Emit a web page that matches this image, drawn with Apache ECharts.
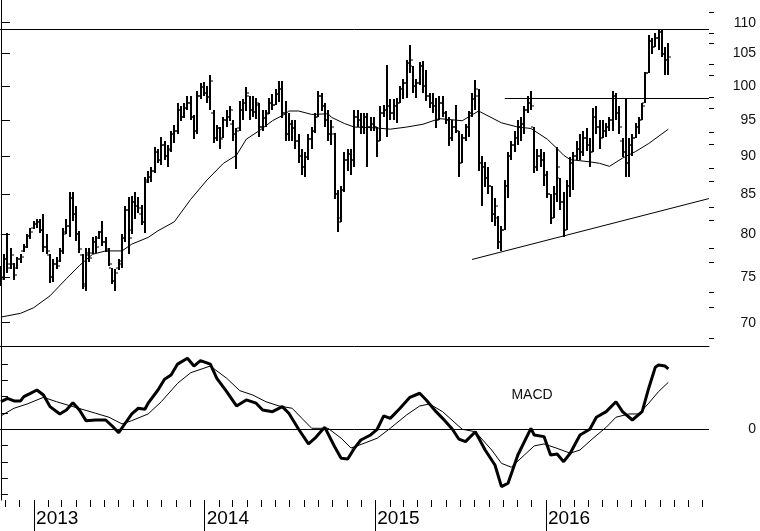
<!DOCTYPE html>
<html><head><meta charset="utf-8">
<script src="https://cdn.jsdelivr.net/npm/echarts@6.0.0/dist/echarts.min.js"></script>
<style>html,body{margin:0;padding:0;background:#fff}#c{width:760px;height:531px}</style>
</head><body><div id="c"></div>
<script>
// ---- data (weekly bars, first bar week of 2012-10-22) ----
const firstBar = [2012, 9, 22];
const opens = [75.8,75.0,77.0,76.5,76.5,76.0,77.0,78.0,78.5,79.8,80.8,81.2,81.5,80.5,78.5,77.5,75.0,76.5,76.8,78.0,
80.2,81.0,84.5,82.5,80.0,77.5,74.0,77.5,77.8,79.0,79.5,80.2,79.0,78.0,76.0,74.5,76.0,76.5,79.5,83.0,
80.5,84.0,83.5,82.5,81.5,86.8,87.2,88.0,90.5,89.5,91.5,90.0,91.0,93.0,93.5,96.5,95.5,96.8,97.5,95.5,
93.5,98.5,99.8,99.0,98.3,96.0,92.5,93.8,92.5,95.0,95.5,94.5,93.0,93.8,96.5,97.5,98.5,96.5,96.2,97.2,
94.0,95.3,96.0,97.5,97.2,98.8,99.5,96.0,93.0,94.5,93.8,92.0,90.0,88.5,89.8,92.3,93.5,95.5,98.5,97.0,
95.0,93.0,93.0,85.0,82.0,85.5,89.5,90.3,89.5,95.5,95.0,94.0,95.5,94.0,94.5,94.0,92.0,96.0,96.5,97.0,
96.0,97.0,97.5,99.5,100.5,103.5,103.0,100.0,100.5,103.0,100.0,98.5,97.5,97.0,95.0,97.5,96.0,95.0,92.5,94.0,
93.5,89.0,92.5,94.0,96.0,98.0,98.5,89.0,88.5,87.0,86.0,82.5,82.0,79.0,80.5,86.0,90.0,91.5,92.5,94.0,
94.5,96.5,97.5,94.0,88.5,90.0,89.5,87.5,85.0,82.0,85.0,87.0,84.0,80.5,86.0,89.0,90.0,91.0,90.5,92.5,
91.5,90.5,95.5,94.0,92.5,93.5,94.0,95.0,98.5,96.0,92.0,90.5,89.0,91.5,92.5,94.0,95.0,97.5,102.0,107.0,
106.0,107.5,108.5,105.0,104.0];
const highs = [76.2,77.6,80.1,78.3,76.6,77.3,77.6,78.8,80.0,80.8,81.6,81.9,81.9,82.5,80.0,77.6,77.0,77.3,78.4,80.7,
81.8,85.3,85.3,83.5,80.4,77.6,78.3,78.4,79.6,79.8,80.4,81.6,79.6,78.4,76.0,75.9,77.0,80.0,83.5,84.6,
84.7,85.2,84.6,83.6,87.2,88.0,88.5,91.2,91.0,92.6,92.0,91.5,93.5,94.3,97.4,97.0,97.4,98.5,98.5,95.7,
99.2,100.4,100.6,100.0,101.7,96.5,94.3,94.0,95.5,96.5,97.1,95.0,93.9,97.7,98.0,99.9,98.5,98.5,98.2,97.4,
96.5,96.5,98.2,98.8,99.6,100.7,100.7,97.7,96.0,95.0,95.0,93.0,91.0,90.5,93.0,94.0,96.0,99.2,99.0,97.5,
96.5,95.0,93.2,85.5,86.0,90.5,91.0,91.0,96.5,96.5,96.0,96.0,96.0,95.5,95.5,94.0,97.0,97.2,103.2,98.0,
98.0,98.2,100.0,101.0,104.0,106.4,103.0,101.0,103.7,103.8,102.5,99.0,99.0,98.2,98.5,98.5,96.3,95.4,95.0,97.2,
93.5,93.0,94.5,96.3,99.0,100.9,99.5,90.0,89.2,88.5,86.0,84.5,82.2,81.0,86.8,90.6,92.0,93.5,95.0,95.5,
97.0,98.5,99.2,94.0,91.0,91.0,90.5,88.0,85.0,86.0,91.2,87.0,85.3,86.8,89.9,90.5,92.0,93.0,93.5,93.9,
92.5,96.7,97.0,95.0,95.0,94.6,95.5,99.2,99.0,97.0,92.5,98.2,92.5,93.0,94.6,95.5,97.5,102.2,108.0,107.5,
108.3,109.0,109.0,106.0,106.7];
const lows = [74.0,74.7,75.5,75.9,74.7,75.9,76.6,77.9,78.3,79.4,80.6,80.8,80.1,77.9,77.6,74.3,74.4,75.9,76.7,77.6,
80.0,79.6,81.6,79.2,77.8,73.6,73.4,76.7,77.6,77.8,79.4,78.6,77.9,76.3,74.2,73.4,75.8,76.0,79.0,77.6,
80.0,81.8,82.6,81.1,80.1,86.4,86.5,87.7,89.0,88.8,89.5,88.5,90.5,91.8,93.0,94.9,95.3,96.5,95.0,92.3,
93.0,98.0,98.5,97.5,96.5,91.8,92.0,91.0,92.5,94.0,94.9,92.1,88.3,93.5,95.0,96.3,95.0,95.5,95.2,92.6,
93.5,94.0,95.8,96.5,97.2,97.6,95.3,92.0,92.0,92.0,91.0,89.0,87.4,87.2,89.5,91.0,93.2,95.5,96.3,94.0,
92.0,91.5,84.3,80.3,81.5,85.2,88.0,87.4,88.5,94.0,93.0,93.0,88.5,93.5,93.5,89.9,92.0,95.5,92.6,95.0,
95.0,94.6,97.4,98.0,98.2,102.0,99.0,98.2,100.2,99.0,97.7,96.7,96.0,93.8,95.0,95.5,94.5,91.4,92.0,93.2,
87.2,89.0,92.0,92.6,95.4,96.5,88.0,83.5,85.9,85.0,81.5,81.0,78.2,78.0,80.5,84.5,89.4,90.6,91.5,92.0,
93.0,96.0,96.5,87.7,88.0,88.5,86.0,84.5,81.2,82.0,84.0,83.0,79.6,80.5,84.6,85.5,89.4,89.4,90.0,90.7,
88.5,90.5,93.0,91.0,92.5,92.6,93.5,93.5,95.0,93.0,89.9,87.2,87.2,90.0,92.5,93.0,95.0,97.5,102.0,105.0,
106.0,105.5,104.4,101.6,101.6];
const closes = [74.8,77.0,76.0,77.5,75.2,77.0,77.3,78.5,79.8,80.2,81.2,81.5,80.5,78.5,78.0,75.0,76.5,76.2,78.0,80.0,
81.0,84.5,82.5,80.0,78.2,74.2,77.8,77.2,79.0,78.5,80.2,79.0,78.2,76.5,74.5,75.5,76.8,79.5,83.0,79.5,
84.0,83.5,83.2,81.5,86.5,87.2,88.0,90.5,89.5,91.5,90.0,90.8,93.0,93.5,96.5,95.5,96.8,97.5,95.5,93.5,
98.5,99.8,99.0,98.3,100.8,92.5,93.8,92.3,95.0,95.5,96.5,93.0,93.5,96.5,97.5,99.0,96.5,96.2,97.5,94.0,
95.3,95.8,97.5,97.2,98.8,99.5,96.0,93.0,94.5,93.8,92.0,90.0,88.5,89.8,92.3,93.5,95.5,98.5,97.0,95.0,
93.0,94.0,85.0,81.5,85.5,89.5,90.3,89.5,95.5,95.0,94.0,95.5,94.0,94.5,94.0,92.0,96.0,96.5,97.0,96.0,
97.0,97.5,99.5,100.5,103.5,104.0,100.0,100.5,103.0,100.0,98.5,97.5,97.0,95.0,97.5,96.0,95.0,92.5,94.0,93.5,
89.0,92.5,94.0,96.0,98.0,99.5,89.0,88.5,87.0,86.0,82.5,83.5,79.0,80.5,86.0,90.0,91.5,92.5,94.0,94.5,
96.5,97.5,97.0,88.5,90.0,89.5,87.5,85.0,82.0,85.0,88.5,84.0,80.5,86.0,89.0,90.0,91.0,90.5,92.5,91.5,
90.5,95.5,94.0,92.5,93.5,94.0,95.0,98.5,96.0,94.0,90.5,89.0,91.5,92.5,94.0,95.0,97.0,102.0,107.0,106.0,
107.5,108.5,105.0,104.0,104.5];
// moving average: [bar index, price]
const maPoints = [[0,70.6],[6,71.0],[10,71.6],[15,72.9],[20,74.8],[24,76.3],[28,77.6],[32,78.0],[37,78.0],[40,78.8],
[45,79.6],[48,80.4],[53,81.5],[58,84.3],[63,86.8],[68,89.0],[72,90.1],[75,92.3],[79,93.5],[83,94.9],[87,95.9],[88,96.3],
[91,96.3],[95,95.8],[100,95.9],[101,95.4],[105,94.5],[108,94.0],[114,93.9],[119,93.7],[124,94.0],[129,94.4],[134,95.2],
[141,94.9],[146,96.3],[153,94.6],[158,94.0],[162,93.8],[167,92.3],[170,91.0],[172,90.1],[174,89.5],[180,89.2],[183,89.0],
[186,88.6],[190,89.7],[194,90.6],[198,91.7],[204,93.7]];
const macdPoints = [[0,1.69],[2,1.90],[4,1.74],[6,1.74],[7,2.0],[9,2.2],[11,2.41],[13,2.1],[15,1.39],[18,0.94],[20,1.18],
[22,1.63],[24,1.18],[26,0.53],[29,0.57],[32,0.57],[34,0.2],[36,-0.21],[38,0.37],[40,0.94],[42,1.29],[44,1.23],[45,1.6],
[48,2.41],[50,3.07],[52,3.33],[54,4.0],[57,4.36],[59,3.88],[61,4.21],[64,4.0],[66,3.13],[69,2.31],[72,1.43],[75,1.8],
[78,1.6],[80,1.18],[83,1.08],[86,1.39],[88,0.98],[91,0],[94,-0.9],[96,-0.55],[98,-0.09],[99,0.12],[102,-1.07],[104,-1.78],
[106,-1.82],[108,-1.17],[110,-0.66],[113,-0.35],[115,0],[117,0.82],[119,0.67],[122,1.29],[125,1.96],[128,2.21],[130,1.8],
[133,1.08],[135,0.67],[138,0],[140,-0.61],[142,-0.76],[145,-0.15],[148,-1.27],[151,-2.19],[153,-3.52],[155,-3.31],
[158,-1.58],[162,0.06],[163,-0.35],[166,-0.45],[168,-1.58],[170,-1.52],[172,-1.99],[174,-1.47],[177,-0.35],[180,0],
[182,0.74],[185,1.08],[188,1.69],[190,1.08],[193,0.57],[196,1.08],[198,2.52],[200,3.8],[201,3.94],[203,3.88],[204,3.7]];
const signalPoints = [[0,0.82],[4,1.29],[8,1.55],[13,1.96],[17,1.69],[22,1.39],[29,0.98],[33,0.74],[37,0.33],[40,0.53],
[45,0.94],[49,1.69],[54,2.82],[58,3.47],[64,3.88],[69,3.13],[73,2.37],[77,2.1],[81,1.69],[85,1.43],[89,1.29],[92,0.67],
[95,0.06],[100,0.06],[104,-0.55],[107,-1.15],[111,-0.86],[115,-0.55],[119,0.06],[124,0.88],[128,1.43],[131,1.55],
[135,1.08],[141,0],[145,-0.15],[150,-1.27],[153,-2.09],[156,-2.33],[160,-1.58],[163,-1.02],[166,-0.9],[170,-1.17],
[174,-1.47],[177,-1.27],[181,-0.55],[185,0.12],[188,0.74],[192,0.94],[195,0.94],[198,1.6],[201,2.31],[204,2.88]];
const priceTicks = [70,75,80,85,90,95,100,105,110];
const macdTicks = [-4,-3,-2,-1,0,1,2,3,4];
const yearLabels = ['2013','2014','2015','2016'];
const resistanceHigh = 109;
const resistanceMid = 98.2, resistanceMidStart = 154;
const trendLine = [[144, 77.0], [216.4, 84.4]];
const priceRange = [67.59, 113.83];
const macdRange = [-4.34, 5.11];

// ---- helpers ----
const DAY = 864e5;
const t0 = Date.UTC(firstBar[0], firstBar[1], firstBar[2]);
const wk = (y, m, d) => (Date.UTC(y, m, d) - t0) / (7 * DAY);
const xMin = wk(2012, 9, 20), xMax = wk(2016, 11, 15);
const monthTicks = [];
for (let y = 2012; y <= 2016; y++) for (let m = 0; m < 12; m++) {
  const w = wk(y, m, 1);
  if (m !== 0 && w > xMin && w < xMax) monthTicks.push(w);
}
const yearTicks = yearLabels.map(y => wk(+y, 0, 1));
const L = Math.log;
const majorLn = priceTicks.map(L);
const minorLn = [];
for (let k = 0; k < priceTicks.length - 1; k++) {
  const a = L(priceTicks[k]), b = L(priceTicks[k + 1]);
  minorLn.push(a + (b - a) / 3, a + 2 * (b - a) / 3);
}
minorLn.push(L(110) + (L(110) - L(105)) / 3);
minorLn.unshift(L(70) - (L(75) - L(70)) / 3);
const ohlc = opens.map((o, i) => [i, L(o), L(highs[i]), L(lows[i]), L(closes[i])]);
const font = "'Liberation Sans', Arial, sans-serif";

const chart = echarts.init(document.getElementById('c'), null, {renderer: 'canvas'});
chart.setOption({
  animation: false,
  backgroundColor: '#fff',
  grid: [
    {left: 0, right: 51, top: 0, height: 346},
    {left: 0, right: 51, top: 346, height: 154}
  ],
  xAxis: [
    {gridIndex: 0, type: 'value', min: xMin, max: xMax, position: 'bottom',
     axisLine: {show: true, onZero: false, lineStyle: {color: '#000', width: 1}},
     axisTick: {show: false}, axisLabel: {show: false}, splitLine: {show: false}},
    {gridIndex: 1, type: 'value', min: xMin, max: xMax, position: 'bottom',
     axisLine: {show: false, onZero: false},
     axisTick: {show: true, customValues: monthTicks, length: 7, lineStyle: {color: '#000', width: 1}},
     axisLabel: {show: false}, splitLine: {show: false}},
    {gridIndex: 1, type: 'value', min: xMin, max: xMax, position: 'bottom',
     axisLine: {show: false, onZero: false},
     axisTick: {show: true, customValues: yearTicks, length: 31, lineStyle: {color: '#000', width: 1}},
     axisLabel: {show: true, customValues: yearTicks, align: 'left', margin: 9, padding: [0, 0, 0, 2],
       fontSize: 19, fontFamily: font, color: '#000',
       formatter: v => { let b = 0; yearTicks.forEach((t, k) => { if (Math.abs(t - v) < Math.abs(yearTicks[b] - v)) b = k; }); return yearLabels[b]; }},
     splitLine: {show: false}}
  ],
  yAxis: [
    {gridIndex: 0, type: 'value', position: 'right', min: L(priceRange[0]), max: L(priceRange[1]),
     axisLine: {show: true, lineStyle: {color: '#000', width: 1}},
     axisTick: {show: true, customValues: majorLn, length: 9, lineStyle: {color: '#000'}},
     axisLabel: {show: true, customValues: majorLn, align: 'right', margin: 47, fontSize: 14, fontFamily: font, color: '#111',
       formatter: v => String(Math.round(Math.exp(v)))},
     splitLine: {show: false}},
    {gridIndex: 0, type: 'value', position: 'right', min: L(priceRange[0]), max: L(priceRange[1]),
     axisLine: {show: false},
     axisTick: {show: true, customValues: minorLn, length: 5, lineStyle: {color: '#000'}},
     axisLabel: {show: false}, splitLine: {show: false}},
    {gridIndex: 1, type: 'value', position: 'right', min: macdRange[0], max: macdRange[1],
     axisLine: {show: true, lineStyle: {color: '#000', width: 1}},
     axisTick: {show: true, customValues: macdTicks, length: 7, lineStyle: {color: '#000'}},
     axisLabel: {show: true, customValues: [0], align: 'right', margin: 47, fontSize: 14, fontFamily: font, color: '#111',
       formatter: v => String(Math.round(v))},
     splitLine: {show: false}}
  ],
  series: [
    {type: 'custom', xAxisIndex: 0, yAxisIndex: 0, data: ohlc, encode: {x: 0, y: [1, 2, 3, 4]}, silent: true,
     renderItem: (params, api) => {
       const x = api.value(0);
       const pO = api.coord([x, api.value(1)]), pH = api.coord([x, api.value(2)]);
       const pL = api.coord([x, api.value(3)]), pC = api.coord([x, api.value(4)]);
       const cx = Math.round(pH[0]);
       const yH = Math.round(pH[1]), yL = Math.round(pL[1]);
       const st = {fill: '#000'};
       return {type: 'group', children: [
         {type: 'rect', shape: {x: cx - 1, y: yH, width: 2, height: Math.max(1, yL - yH)}, style: st},
         {type: 'rect', shape: {x: cx - 3, y: Math.round(pO[1]) - 0.5, width: 2, height: 1}, style: st},
         {type: 'rect', shape: {x: cx + 1, y: Math.round(pC[1]) - 0.5, width: 2, height: 1}, style: st}
       ]};
     }},
    {type: 'line', xAxisIndex: 0, yAxisIndex: 0, data: maPoints.map(p => [p[0], L(p[1])]), symbol: 'none', silent: true,
     lineStyle: {color: '#000', width: 1},
     markLine: {silent: true, symbol: 'none', label: {show: false}, lineStyle: {color: '#000', width: 1, type: 'solid'},
       data: [
         {yAxis: L(resistanceHigh)},
         [{coord: [resistanceMidStart, L(resistanceMid)]}, {coord: [xMax, L(resistanceMid)]}],
         [{coord: [trendLine[0][0], L(trendLine[0][1])]}, {coord: [trendLine[1][0], L(trendLine[1][1])]}]
       ]}},
    {type: 'line', xAxisIndex: 1, yAxisIndex: 2, data: signalPoints, symbol: 'none', silent: true,
     lineStyle: {color: '#000', width: 1},
     markLine: {silent: true, symbol: 'none', label: {show: false}, lineStyle: {color: '#000', width: 1, type: 'solid'},
       data: [{yAxis: 0}]}},
    {type: 'line', xAxisIndex: 1, yAxisIndex: 2, data: macdPoints, symbol: 'none', silent: true,
     lineStyle: {color: '#000', width: 3}}
  ],
  graphic: [
    {type: 'text', x: 532, y: 395, silent: true,
     style: {text: 'MACD', align: 'center', verticalAlign: 'middle', fontSize: 14, fontFamily: font, fill: '#111'}}
  ]
});
</script></body></html>
